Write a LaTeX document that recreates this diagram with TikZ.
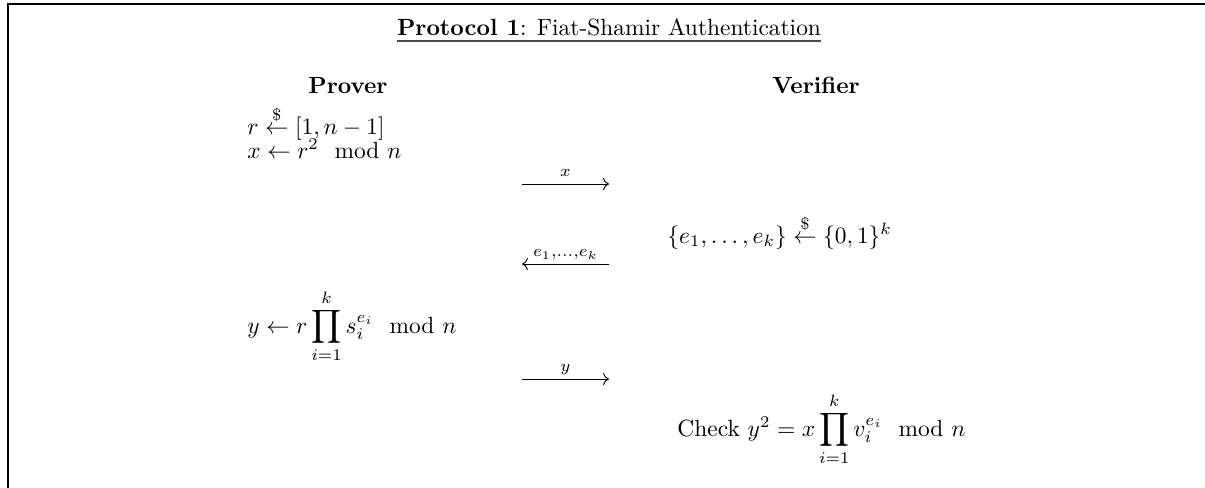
\documentclass[tikz,border=0pt]{standalone}
\usepackage{amsmath}
\usetikzlibrary{arrows.meta}
\begin{document}
\begin{tikzpicture}[>={Computer Modern Rightarrow},x=0.427pt,y=-0.427pt,
	party/.style={anchor=base,inner sep=0pt,font=\bfseries},
	act/.style={anchor=base west,inner sep=0pt},
	msg/.style={->,line width=0.4pt},
	msglbl/.style={anchor=base,yshift=3pt,inner sep=0pt}]
	\useasboundingbox (0,0) rectangle (1205,488);
	\draw[line width=1pt] (7.8,495) -- (7.8,4) -- (1210,4);
	\node[anchor=base,inner sep=0pt] (title) at (609,35) {\textbf{Protocol 1}: Fiat-Shamir Authentication};
	\draw[black!70,line width=0.6pt] ([yshift=-2.6pt]title.base west) -- ([yshift=-2.6pt]title.base east);
	\node[party] (prover) at (348,93) {Prover};
	\node[party] (verifier) at (816,93) {Verifier};
	\node[act] (commit) at (247,134) {$r \stackrel{\$}{\leftarrow} [1,n-1]$};
	\node[act] (square) at (247,158) {$x \leftarrow r^2 \mod n$};
	\node[act] (chal) at (667,243) {$\{e_1,\ldots,e_k\} \stackrel{\$}{\leftarrow} \{0,1\}^k$};
	\node[act] (resp) at (247,333) {$y \leftarrow r \displaystyle\prod_{i=1}^{k} s_i^{e_i} \mod n$};
	\node[act] (check) at (677,436) {Check $y^2 = x \displaystyle\prod_{i=1}^{k} v_i^{e_i} \mod n$};
	\coordinate (xa) at (522,184);
	\coordinate (xb) at (609,184);
	\coordinate (ea) at (522,264);
	\coordinate (eb) at (609,264);
	\coordinate (ya) at (522,379);
	\coordinate (yb) at (609,379);
	\draw[msg] (xa) -- (xb) node[msglbl,midway] {$\scriptstyle x$};
	\draw[msg] (eb) -- (ea) node[msglbl,midway] {$\scriptstyle e_1,\ldots,e_k$};
	\draw[msg] (ya) -- (yb) node[msglbl,midway] {$\scriptstyle y$};
\end{tikzpicture}
\end{document}
